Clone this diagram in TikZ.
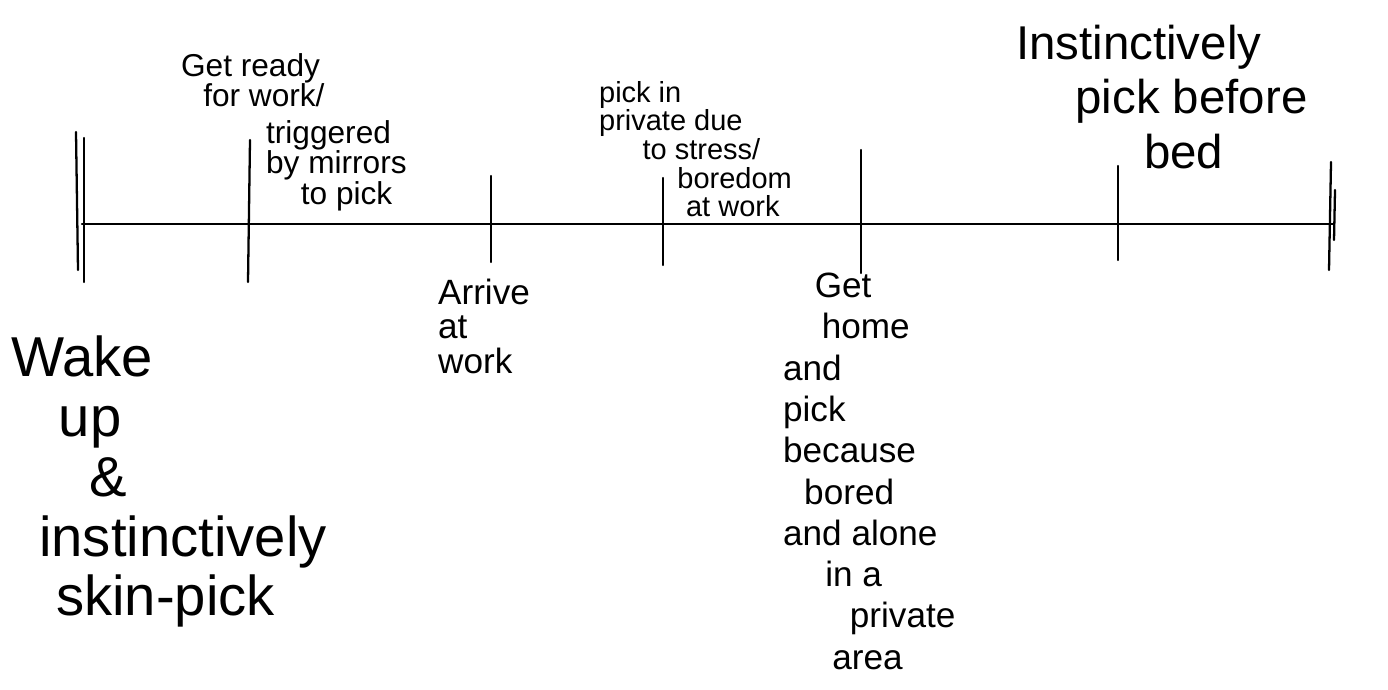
\documentclass[tikz,border=0pt]{standalone}
\usepackage{fontspec}
\setmainfont{Liberation Sans}
\begin{document}
\begin{tikzpicture}[x=0.02cm,y=-0.02cm,line width=1.3pt,line cap=round,
  lbl/.style={inner sep=0pt,anchor=north west,align=left},
  small/.style={lbl,font=\fontsize{18}{17.5}\selectfont},
  tiny/.style={lbl,font=\fontsize{16.5}{16.3}\selectfont},
  arrv/.style={lbl,font=\fontsize{20}{19.5}\selectfont},
  mid/.style={lbl,font=\fontsize{20}{23.5}\selectfont},
  big/.style={lbl,font=\fontsize{27}{31}\selectfont},
  huge/.style={lbl,font=\fontsize{32}{34}\selectfont}]
\useasboundingbox (0,0) rectangle (1388,689);
% axis
\coordinate (L) at (82,224);
\coordinate (R) at (1333,224);
\draw (L) -- (R);
% ticks
\coordinate (a1) at (84,138);  \coordinate (a2) at (84,282);
\coordinate (a3) at (76,132);  \coordinate (a4) at (78,270);
\coordinate (b1) at (250,140); \coordinate (b2) at (248,282);
\coordinate (c1) at (491,176); \coordinate (c2) at (491,262);
\coordinate (d1) at (663,178); \coordinate (d2) at (663,265);
\coordinate (e1) at (861,150); \coordinate (e2) at (861,273);
\coordinate (f1) at (1118,166); \coordinate (f2) at (1118,260);
\coordinate (g1) at (1331,162); \coordinate (g2) at (1329,270);
\coordinate (g3) at (1335,190); \coordinate (g4) at (1334,240);
\draw (a1) -- (a2);
\draw (a3) -- (a4);
\draw (b1) -- (b2);
\draw (c1) -- (c2);
\draw (d1) -- (d2);
\draw (e1) -- (e2);
\draw (f1) -- (f2);
\draw (g1) -- (g2);
\draw (g3) -- (g4);
% labels
\node[small] (gr1) at (180,52) {Get ready\\\hspace{0.7em}for work/};
\node[small] (gr2) at (265,119) {triggered\\by mirrors\\\hspace{1.1em}to pick};
\node[tiny] (pk) at (598,80) {pick in\\private due\\\hspace{1.5em}to stress/\\\hspace{2.7em}boredom\\\hspace{3em}at work};
\node[big] (ins) at (1015,24) {Instinctively\\\hspace{1.25em}pick before\\\hspace{2.7em}bed};
\node[arrv] (arr) at (437,278) {Arrive\\at\\work};
\node[mid] (gh) at (782,272) {\hspace{0.9em}Get\\\hspace{1.1em}home\\and\\pick\\because\\\hspace{0.6em}bored\\and alone\\\hspace{1.2em}in a\\\hspace{1.9em}private\\\hspace{1.4em}area};
\node[huge] (wk) at (10,335) {Wake\\\hspace{0.85em}up\\\hspace{1.4em}\&\\\hspace{0.5em}instinctively\\\hspace{0.8em}skin-pick};
\end{tikzpicture}
\end{document}
